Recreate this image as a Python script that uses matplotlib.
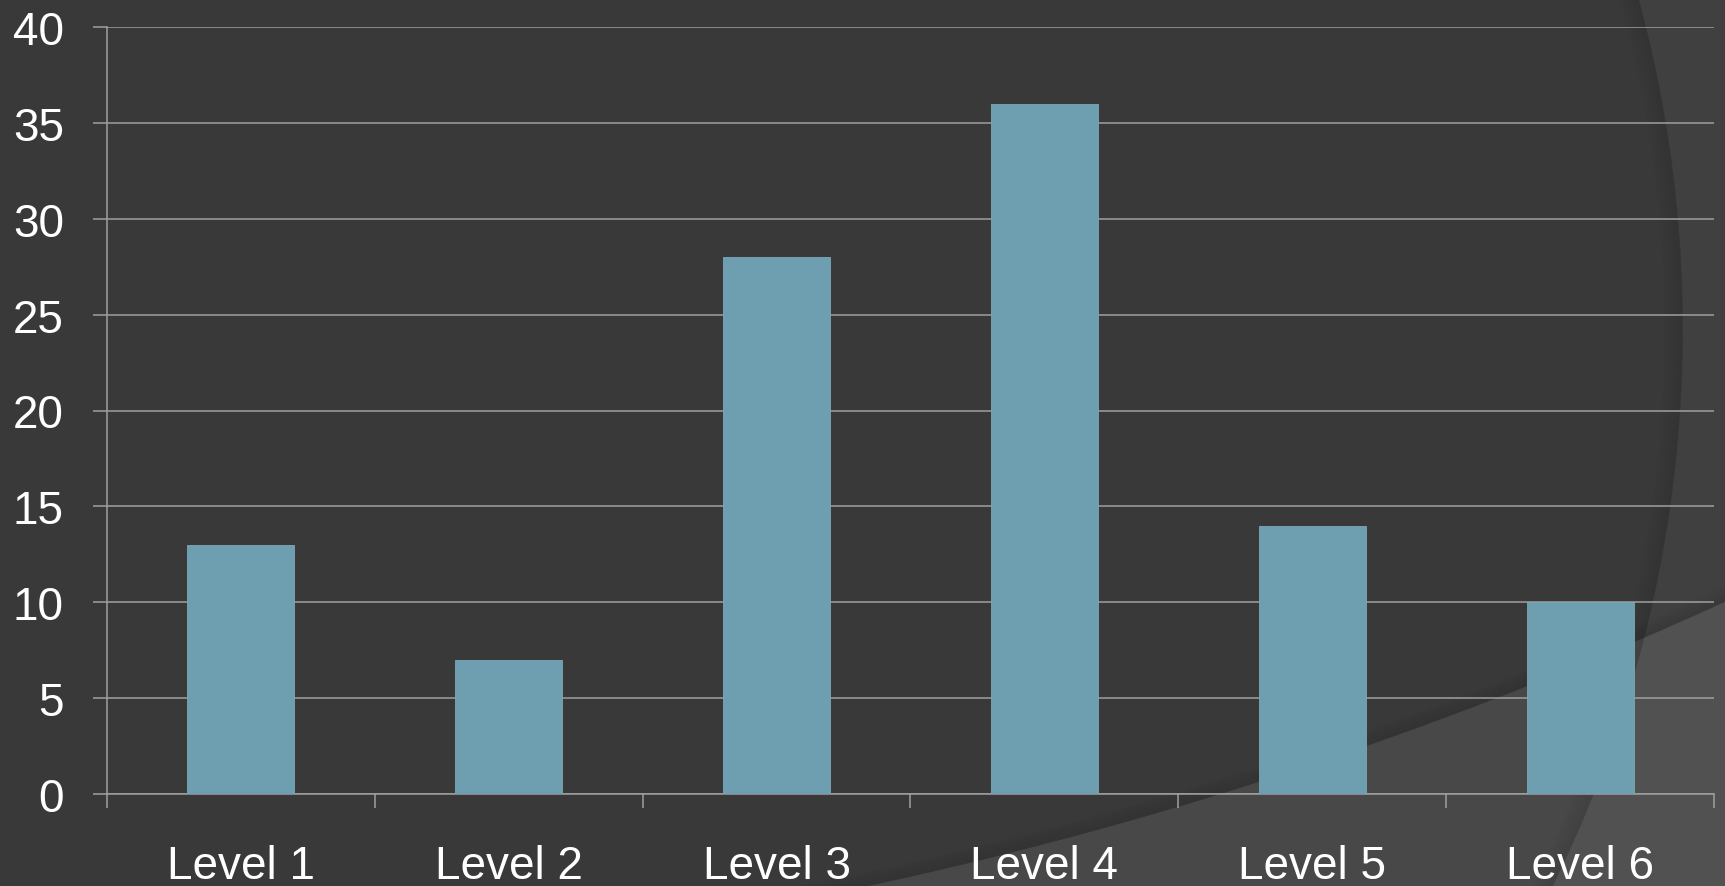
import numpy as np
import matplotlib
matplotlib.use("Agg")
import matplotlib.pyplot as plt
from matplotlib.patches import Circle

# данные
levels = ["Level 1", "Level 2", "Level 3", "Level 4", "Level 5", "Level 6"]
counts = [13, 7, 28, 36, 14, 10]
y_ticks = [0, 5, 10, 15, 20, 25, 30, 35, 40]

W, H = 1725, 887
dark = "#404040"
light = "#515151"
bar_color = "#6d9fb0"
grid_color = "#a0a0a0"

plt.rcParams["font.family"] = ["Liberation Sans", "DejaVu Sans"]

fig = plt.figure(figsize=(W / 100, H / 100), dpi=100)
fig.patch.set_facecolor(light)

bg = fig.add_axes([0, 0, 1, 1])
bg.set_xlim(0, W)
bg.set_ylim(0, H)
bg.axis("off")

# фон: большой тёмный круг, нижний правый угол светлее
pts = np.array([[869.0, 0.0], [1367.0, 140.0], [1725.0, 284.0]])
A = 2 * (pts[1:] - pts[0])
b = (pts[1:] ** 2).sum(axis=1) - (pts[0] ** 2).sum()
cx, cy = np.linalg.solve(A, b)
r = np.hypot(pts[0, 0] - cx, pts[0, 1] - cy)
bg.add_patch(Circle((cx, cy), r, facecolor=dark, edgecolor="none"))
for k in range(14):
    bg.add_patch(Circle((cx, cy), r - 1 - k, fill=False, edgecolor="black",
                        lw=0.8, alpha=0.09 * (1 - k / 14)))

# дуга справа с мягкой тенью внутри
c2, r2 = (424, 557), 1259
bg.add_patch(Circle(c2, r2, facecolor="black", edgecolor="none", alpha=0.1))
for k in range(18):
    bg.add_patch(Circle(c2, r2 - 1 - k, fill=False, edgecolor="black",
                        lw=0.8, alpha=0.08 * (1 - k / 18)))

ax = fig.add_axes([107 / W, 92 / H, 1607 / W, 767 / H])
ax.set_facecolor("none")

x = np.arange(len(levels))
ax.bar(x, counts, width=0.4, color=bar_color, edgecolor="#7aa9b8",
       linewidth=0.6, zorder=3)

ax.set_xlim(-0.5, len(levels) - 0.5)
ax.set_ylim(0, 40)
ax.set_yticks(y_ticks)
ax.set_xticks(x)
ax.set_xticklabels(levels)
ax.set_xticks(np.arange(len(levels) + 1) - 0.5, minor=True)

ax.grid(axis="y", color=grid_color, lw=1.1, zorder=0)
ax.set_axisbelow(True)

for s in ["top", "right"]:
    ax.spines[s].set_visible(False)
for s in ["left", "bottom"]:
    ax.spines[s].set_color(grid_color)
    ax.spines[s].set_linewidth(1.1)

ax.tick_params(axis="y", length=10, width=1.1, color=grid_color, pad=21,
               labelsize=33, labelcolor="white")
ax.tick_params(axis="x", which="major", length=0, pad=36,
               labelsize=33, labelcolor="white")
ax.tick_params(axis="x", which="minor", length=10, width=1.1, color=grid_color)

fig.savefig("out.png", dpi=100, facecolor=fig.get_facecolor())
